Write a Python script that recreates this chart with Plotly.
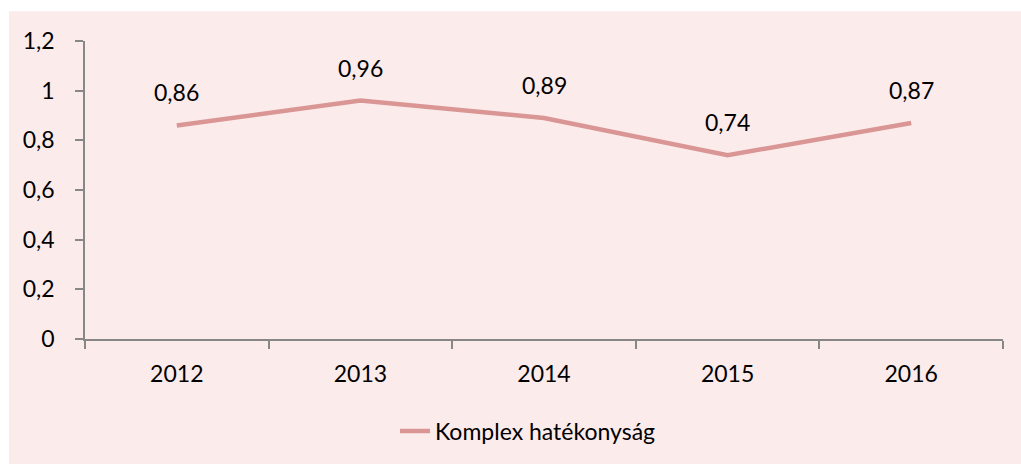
import plotly.graph_objects as go

years = ["2012", "2013", "2014", "2015", "2016"]
values = [0.86, 0.96, 0.89, 0.74, 0.87]
series_name = "Komplex hatékonyság"
y_ticks = [0, 0.2, 0.4, 0.6, 0.8, 1, 1.2]
y_ticklabels = ["0", "0,2", "0,4", "0,6", "0,8", "1", "1,2"]

W, H = 1021, 464
L, R, T, B = 85, 18, 41, 122
pw, ph = W - L - R, H - T - B

font = "Lato, Calibri, Carlito, sans-serif"
axis_col = "#878787"
line_col = "#D99694"
bg_col = "#FCEBEB"

fig = go.Figure()
fig.add_trace(go.Scatter(
    x=years, y=values, mode="lines", name=series_name,
    line=dict(color=line_col, width=4.5),
    hoverinfo="skip",
))

for i, (yr, v) in enumerate(zip(years, values)):
    fig.add_annotation(x=i, y=v, xref="x", yref="y",
                       text=f"{v:.2f}".replace(".", ","),
                       showarrow=False, yshift=33,
                       font=dict(family=font, size=23, color="#000000"))

# white strips at top and left of the pink chart area
fig.add_shape(type="rect", xref="paper", yref="paper",
              x0=-L / pw - 0.05, x1=(W - L) / pw + 0.05,
              y0=(T + ph - 11) / ph, y1=(T + ph) / ph + 0.05,
              fillcolor="#FFFFFF", line=dict(width=0), layer="below")
fig.add_shape(type="rect", xref="paper", yref="paper",
              x0=-L / pw - 0.05, x1=(9 - L) / pw,
              y0=-B / ph - 0.05, y1=(T + ph) / ph + 0.05,
              fillcolor="#FFFFFF", line=dict(width=0), layer="below")

fig.update_layout(
    width=W, height=H,
    margin=dict(l=L, r=R, t=T, b=B),
    paper_bgcolor=bg_col, plot_bgcolor="rgba(0,0,0,0)",
    separators=", ",
    font=dict(family=font, size=23, color="#000000"),
    showlegend=True,
    legend=dict(orientation="h", x=(395 - L) / pw, xanchor="left",
                y=(T + ph - 435) / ph, yanchor="middle",
                bgcolor="rgba(0,0,0,0)", font=dict(family=font, size=23)),
    xaxis=dict(type="category", range=[-0.5, 4.5], showgrid=False,
               showline=True, linecolor=axis_col, linewidth=1.5,
               ticks="outside", tickson="boundaries", ticklen=8,
               tickcolor=axis_col, tickwidth=1.5, ticklabelstandoff=14,
               zeroline=False, fixedrange=True),
    yaxis=dict(range=[0, 1.2], tickvals=y_ticks, ticktext=y_ticklabels,
               showgrid=False, showline=True, linecolor=axis_col,
               linewidth=1.5, ticks="outside", ticklen=8,
               tickcolor=axis_col, tickwidth=1.5, ticklabelstandoff=16,
               zeroline=False, fixedrange=True),
)

fig.write_html("out.html", config={"displayModeBar": False},
               post_script="document.body.style.margin='0';")
